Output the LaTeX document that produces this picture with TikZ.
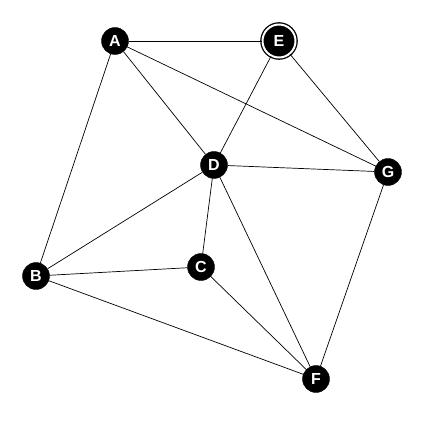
\documentclass[tikz,border=0pt]{standalone}
\usepackage{fontspec}
\setmainfont{Liberation Sans}
\begin{document}
\begin{tikzpicture}[x=1pt,y=-1pt,
  vtx/.style={circle,fill=black,draw=black,minimum size=27pt,inner sep=0pt,text=white,font=\bfseries\fontsize{16}{16}\selectfont},
  dvtx/.style={vtx,double=white,double distance=2pt,line width=1.3pt,minimum size=33pt},
  edge/.style={line width=0.7pt,black}]
\useasboundingbox (0,0) rectangle (426,427);
\node[vtx] (A) at (115,41) {A};
\node[dvtx] (E) at (279,41) {E};
\node[vtx] (D) at (214,165) {D};
\node[vtx] (G) at (388,172) {G};
\node[vtx] (B) at (36,276) {B};
\node[vtx] (C) at (201,267) {C};
\node[vtx] (F) at (316,379) {F};
\draw[edge] (A) -- (E);
\draw[edge] (A) -- (D);
\draw[edge] (A) -- (G);
\draw[edge] (A) -- (B);
\draw[edge] (E) -- (D);
\draw[edge] (E) -- (G);
\draw[edge] (D) -- (G);
\draw[edge] (D) -- (B);
\draw[edge] (D) -- (C);
\draw[edge] (D) -- (F);
\draw[edge] (B) -- (C);
\draw[edge] (B) -- (F);
\draw[edge] (C) -- (F);
\draw[edge] (G) -- (F);
\end{tikzpicture}
\end{document}
